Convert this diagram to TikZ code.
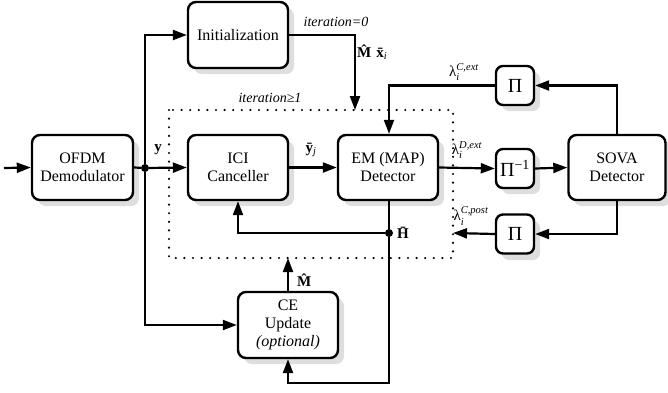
\documentclass[tikz,border=0pt]{standalone}
\usepackage{fontspec}
\usepackage{amsmath}
\setmainfont{Liberation Serif}
\usetikzlibrary{arrows.meta}

\definecolor{shadowgray}{RGB}{222,222,222}

\tikzset{
  blk/.style={draw, line width=2.4pt, rounded corners=8pt, fill=white,
    align=center, font=\fontsize{16}{18}\selectfont, inner sep=0pt},
  perm/.style={blk, rounded corners=7pt, minimum width=38pt, minimum height=39pt,
    font=\fontsize{20}{22}\selectfont},
  plate/.style={fill=shadowgray, rounded corners=8pt},
  conn/.style={line width=2.2pt, -{Triangle[length=14pt,width=10pt]}},
  wire/.style={line width=2.2pt},
  lbl/.style={font=\fontsize{14}{16}\selectfont\itshape, inner sep=0pt},
  sym/.style={font=\fontsize{15}{17}\selectfont\bfseries, inner sep=0pt},
  lam/.style={font=\fontsize{15}{17}\selectfont, inner sep=0pt},
  dotbox/.style={line width=2.4pt, line cap=round, dash pattern=on 0pt off 8.6pt},
  jdot/.style={circle, fill=black, inner sep=0pt, minimum size=8pt}
}

\begin{document}
\begin{tikzpicture}[x=1pt, y=-1pt]
\useasboundingbox (0,0) rectangle (668,392);

% shadow plates, drawn first and offset down-right from each block
\fill[plate] (38,141) rectangle (139,206);
\fill[plate] (194,8) rectangle (294,74);
\fill[plate] (194,141) rectangle (294,206);
\fill[plate] (344,141) rectangle (444,206);
\fill[plate] (574,141) rectangle (671,206);
\fill[plate] (244,298) rectangle (344,364);
\fill[plate, rounded corners=7pt] (502,72) rectangle (540,111);
\fill[plate, rounded corners=7pt] (502,155) rectangle (540,194);
\fill[plate, rounded corners=7pt] (502,221) rectangle (540,260);

% dotted frame of the iterative loop
\draw[dotbox] (169,110) rectangle (453,258);

% blocks
\node[blk, minimum width=101pt, minimum height=65pt] (ofdm) at (82.5,167.5) {OFDM\\Demodulator};
\node[blk, minimum width=100pt, minimum height=66pt] (init) at (238,35) {Initialization};
\node[blk, minimum width=100pt, minimum height=65pt] (ici) at (238,167.5) {ICI\\Canceller};
\node[blk, minimum width=100pt, minimum height=65pt] (em) at (388,167.5) {EM (MAP)\\Detector};
\node[blk, minimum width=97pt, minimum height=65pt] (sova) at (617,167.5) {SOVA\\Detector};
\node[blk, minimum width=100pt, minimum height=66pt] (ce) at (288,325) {CE\\Update\\\textit{(optional)}};
\node[perm] (pic) at (515,85.5) {Π};
\node[perm] (piinv) at (515,168.5) {Π\textsuperscript{−1}};
\node[perm] (pip) at (515,234) {Π};

% junction points and loose ends
\coordinate (in) at (4,168);
\node[jdot] (jy) at (145,168) {};
\node[jdot] (jh) at (389,233) {};
\coordinate (dtop) at (355,110);
\coordinate (dbot) at (288,258);
\coordinate (dright) at (453,233);

% signal flow
\draw[conn] (in) -- (ofdm.west);
\draw[wire] (ofdm.east) -- (jy);
\draw[conn] (jy) -- (ici.west);
\draw[conn] (jy) |- (init.west);
\draw[conn] (jy) |- (ce.west);
\draw[conn] (init.east) -| (dtop);
\draw[conn] (ici.east) -- (em.west);
\draw[conn] (em.east) -- (piinv.west);
\draw[conn] (piinv.east) -- (sova.west);
\draw[conn] (sova.north) |- (pic.east);
\draw[conn] (pic.west) -| (jh |- em.north);
\draw[conn] (sova.south) |- (pip.east);
\draw[conn] (pip.west) -- (dright);
\draw[wire] (jh |- em.south) -- (jh);
\draw[conn] (jh) -- (jh |- 0,383) -| (ce.south);
\draw[conn] (jh) -| (ici.south);
\draw[conn] (ce.north) -- (dbot);

% labels
\node[sym] (ly) at (158,150) {y};
\node[lbl] (it1) at (270,98) {iteration≥1};
\node[lbl] (it0) at (336,22) {iteration=0};
\node[sym, anchor=west] (lmx) at (357,52) {\^{M}\hspace{5pt}\={x}\textsubscript{\normalfont\itshape i}};
\node[sym] (lyj) at (311,150) {ȳ\textsubscript{\normalfont\itshape j}};
\node[sym, anchor=west] (lh) at (397,233) {\={H}};
\node[sym, anchor=west] (lm) at (297,280) {\^{M}};
\node[lam] (lce) at (464,72) {$\text{λ}^{\textit{C,ext}}_{\textit{i}}$};
\node[lam] (lde) at (467,150) {$\text{λ}^{\textit{D,ext}}_{\textit{i}}$};
\node[lam] (lcp) at (471,216) {$\text{λ}^{\textit{C,post}}_{\textit{i}}$};
\end{tikzpicture}
\end{document}
